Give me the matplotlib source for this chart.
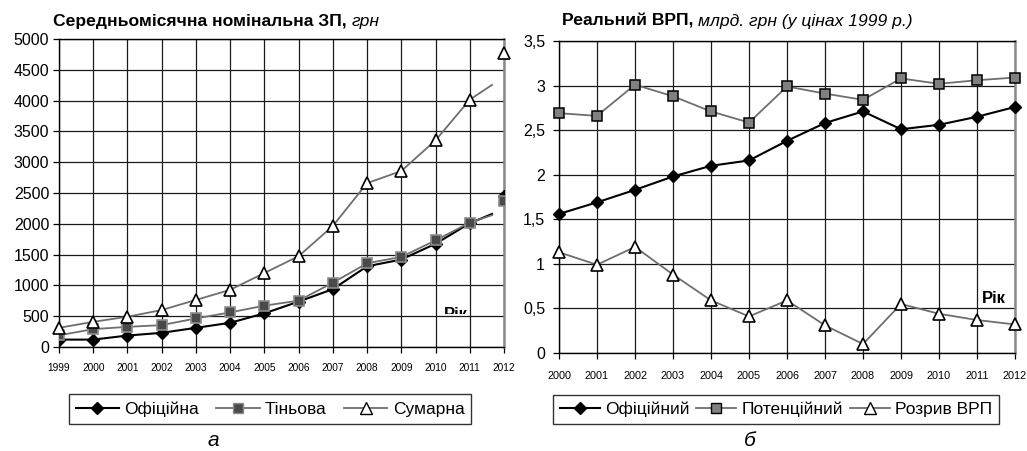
import matplotlib
matplotlib.use("Agg")
import matplotlib.pyplot as plt
from matplotlib.lines import Line2D
from matplotlib.patches import Rectangle
from matplotlib.ticker import FuncFormatter

plt.rcParams['font.family'] = ['Liberation Sans', 'DejaVu Sans']

# ---- data (a) ----
years_a = list(range(1999, 2013))
official_wage = [120, 120, 186, 230, 311, 393, 546, 737, 939, 1310, 1420, 1676, 2009, 2450]
shadow_wage = [190, 290, 327, 355, 464, 562, 671, 753, 1043, 1359, 1463, 1730, 2020, 2364]
total_wage = [311, 409, 491, 600, 764, 928, 1201, 1474, 1965, 2660, 2857, 3355, 4015, 4773]
# trend line continuation past 2011 (as drawn)
ext_x = [2011, 2011.65]
ext_official = [2009, 2160]
ext_shadow = [2020, 2140]
ext_total = [4015, 4255]
labels_a = ['Офіційна', 'Тіньова', 'Сумарна']

# ---- data (b) ----
years_b = list(range(2000, 2013))
official_gdp = [1.56, 1.69, 1.83, 1.98, 2.10, 2.16, 2.38, 2.58, 2.71, 2.51, 2.56, 2.65, 2.76]
potential_gdp = [2.69, 2.66, 3.01, 2.88, 2.71, 2.585, 2.99, 2.91, 2.84, 3.08, 3.02, 3.06, 3.09]
gap_gdp = [1.13, 0.99, 1.19, 0.88, 0.59, 0.41, 0.59, 0.31, 0.10, 0.55, 0.44, 0.37, 0.32]
labels_b = ['Офіційний', 'Потенційний', 'Розрив ВРП']

W, H = 1027, 451
fig = plt.figure(figsize=(W / 100, H / 100), dpi=100)

def fx(px):
    return px / W

def fy(py):
    return 1 - py / H

axA = fig.add_axes([fx(59), fy(347), fx(504 - 59), (347 - 39) / H])
axB = fig.add_axes([fx(559), fy(353), fx(1015 - 559), (353 - 41) / H])

GRID = '#1a1a1a'
GRAY = '#6e6e6e'

def style(ax, xticks, ylim, yticks, xfs, yfs, xpad):
    ax.set_xlim(xticks[0], xticks[-1])
    ax.set_ylim(*ylim)
    ax.set_xticks(xticks)
    ax.set_yticks(yticks)
    ax.grid(True, color=GRID, lw=0.9)
    ax.set_axisbelow(True)
    for s in ['left', 'bottom', 'top']:
        ax.spines[s].set_color('black')
        ax.spines[s].set_linewidth(1.0)
    ax.spines['right'].set_color('#8a8a8a')
    ax.spines['right'].set_linewidth(1.8)
    ax.tick_params(axis='x', direction='out', length=4, width=0.9, pad=xpad, labelsize=xfs)
    ax.tick_params(axis='y', direction='out', length=4, width=0.9, pad=3, labelsize=yfs)

# ---------- chart a ----------
style(axA, years_a, (0, 5000), range(0, 5001, 500), 7.3, 11.5, 7.5)
axA.plot(years_a[:-1], official_wage[:-1], color='black', lw=1.5, zorder=3)
axA.plot(ext_x, ext_official, color='black', lw=1.5, zorder=3)
axA.plot(years_a, official_wage, ls='none', marker='D', ms=6.5, mfc='black', mec='black', zorder=4)
axA.plot(years_a[:-1], shadow_wage[:-1], color=GRAY, lw=1.3, zorder=3)
axA.plot(ext_x, ext_shadow, color=GRAY, lw=1.3, zorder=3)
axA.plot(years_a, shadow_wage, ls='none', marker='s', ms=6.5, mfc='#4a4a4a', mec='#8c8c8c', mew=1.2, zorder=4)
axA.plot(years_a[:-1], total_wage[:-1], color=GRAY, lw=1.3, zorder=3)
axA.plot(ext_x, ext_total, color=GRAY, lw=1.3, zorder=3)
axA.plot(years_a, total_wage, ls='none', marker='^', ms=8.5, mfc='white', mec='black', mew=1.2, zorder=4, clip_on=False)

tA = axA.text(2010.25, 460, 'Рік', fontsize=12, fontweight='bold', va='baseline', ha='left', zorder=5,
              clip_on=True)
tA.set_clip_path(Rectangle((2009, 535), 3, 1000, transform=axA.transData))

t1 = fig.text(fx(53), fy(26), 'Середньомісячна номінальна ЗП, ', fontsize=12.6, fontweight='bold', va='baseline')
fig.canvas.draw()
axA.annotate('грн', xy=(1, 0), xycoords=t1, va='bottom', fontsize=12.6, style='italic', annotation_clip=False)

hA = [Line2D([], [], color='black', lw=1.5, marker='D', ms=6.5, mfc='black', mec='black'),
      Line2D([], [], color=GRAY, lw=1.3, marker='s', ms=6.5, mfc='#4a4a4a', mec='#8c8c8c'),
      Line2D([], [], color=GRAY, lw=1.3, marker='^', ms=8, mfc='white', mec='black')]
legA = fig.legend(hA, labels_a, loc='center', bbox_to_anchor=(fx(270), fy(409)), ncol=3,
                  fontsize=12.5, frameon=True, fancybox=False, edgecolor='black', handlelength=2.5,
                  handletextpad=0.3, columnspacing=1.0, borderpad=0.4)
legA.get_frame().set_linewidth(1.0)
fig.text(fx(213), fy(446), 'а', fontsize=15, style='italic', ha='center', va='baseline')

# ---------- chart b ----------
style(axB, years_b, (0, 3.5), [0, 0.5, 1, 1.5, 2, 2.5, 3, 3.5], 7.8, 11.5, 9)
axB.yaxis.set_major_formatter(FuncFormatter(lambda v, p: ('%g' % v).replace('.', ',')))
axB.tick_params(axis='y', pad=6)
axB.plot(years_b, official_gdp, color='black', lw=1.5, marker='D', ms=6.5, mfc='black', mec='black', zorder=4, clip_on=False)
axB.plot(years_b, potential_gdp, color=GRAY, lw=1.3, marker='s', ms=7, mfc='#808080', mec='black', mew=1.1, zorder=4, clip_on=False)
axB.plot(years_b, gap_gdp, color=GRAY, lw=1.3, marker='^', ms=8.5, mfc='white', mec='black', mew=1.2, zorder=4, clip_on=False)
axB.text(2011.13, 0.525, 'Рік', fontsize=12, fontweight='bold', va='bottom', ha='left', zorder=5)

t2 = fig.text(fx(562), fy(26), 'Реальний ВРП, ', fontsize=12.6, fontweight='bold', va='baseline')
fig.canvas.draw()
axB.annotate('млрд. грн (у цінах 1999 р.)', xy=(1, 0), xycoords=t2, va='bottom', fontsize=12.6,
             style='italic', annotation_clip=False)

hB = [Line2D([], [], color='black', lw=1.5, marker='D', ms=6.5, mfc='black', mec='black'),
      Line2D([], [], color=GRAY, lw=1.3, marker='s', ms=6.5, mfc='#808080', mec='black'),
      Line2D([], [], color=GRAY, lw=1.3, marker='^', ms=8, mfc='white', mec='black')]
legB = fig.legend(hB, labels_b, loc='center', bbox_to_anchor=(fx(776), fy(409.5)), ncol=3,
                  fontsize=12.5, frameon=True, fancybox=False, edgecolor='black', handlelength=2.3,
                  handletextpad=0.3, columnspacing=0.4, borderpad=0.4)
legB.get_frame().set_linewidth(1.0)
fig.text(fx(750), fy(446), 'б', fontsize=15, style='italic', ha='center', va='baseline')

fig.savefig('out.png', dpi=100, facecolor='white')
